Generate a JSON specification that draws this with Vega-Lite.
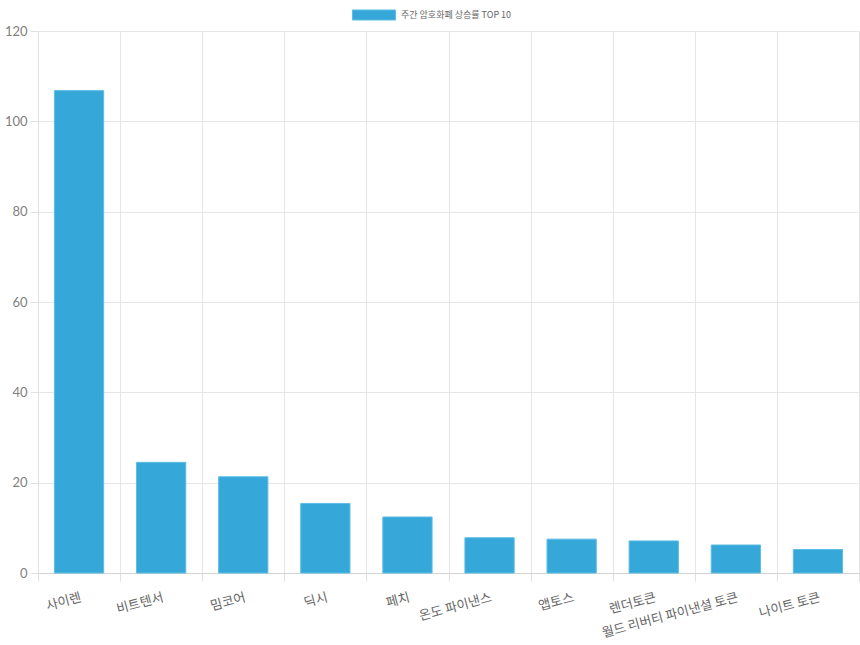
{
  "$schema": "https://vega.github.io/schema/vega-lite/v6.json",
  "width": 821,
  "height": 542,
  "autosize": "none",
  "padding": {"left": 38, "top": 31, "right": 1, "bottom": 72},
  "background": "white",
  "config": {
    "view": {"stroke": null},
    "font": "Noto Sans CJK KR",
    "axis": {
      "gridColor": "#e6e6e6",
      "tickColor": "#e0e0e0",
      "domainColor": "#d2d2d2",
      "labelColor": "#666666",
      "labelFont": "Noto Sans CJK KR"
    }
  },
  "data": {
    "values": [
      {"coin": "사이렌", "gain": 106.8, "series": "주간 암호화폐 상승률 TOP 10"},
      {"coin": "비트텐서", "gain": 24.5, "series": "주간 암호화폐 상승률 TOP 10"},
      {"coin": "밈코어", "gain": 21.3, "series": "주간 암호화폐 상승률 TOP 10"},
      {"coin": "딕시", "gain": 15.4, "series": "주간 암호화폐 상승률 TOP 10"},
      {"coin": "페치", "gain": 12.4, "series": "주간 암호화폐 상승률 TOP 10"},
      {"coin": "온도 파이낸스", "gain": 7.8, "series": "주간 암호화폐 상승률 TOP 10"},
      {"coin": "앱토스", "gain": 7.5, "series": "주간 암호화폐 상승률 TOP 10"},
      {"coin": "렌더토큰", "gain": 7.1, "series": "주간 암호화폐 상승률 TOP 10"},
      {"coin": "월드 리버티 파이낸셜 토큰", "gain": 6.2, "series": "주간 암호화폐 상승률 TOP 10"},
      {"coin": "나이트 토큰", "gain": 5.2, "series": "주간 암호화폐 상승률 TOP 10"}
    ]
  },
  "mark": {
    "type": "bar",
    "width": {"band": 0.6},
    "stroke": "#5dbde4",
    "strokeWidth": 1
  },
  "encoding": {
    "x": {
      "field": "coin",
      "type": "nominal",
      "sort": null,
      "title": null,
      "scale": {"paddingInner": 0, "paddingOuter": 0},
      "axis": {
        "tickBand": "extent",
        "tickSize": 8,
        "labelAngle": -15,
        "labelAlign": "right",
        "labelBaseline": "top",
        "labelPadding": 10,
        "labelFontSize": 13,
        "grid": true
      }
    },
    "y": {
      "field": "gain",
      "type": "quantitative",
      "title": null,
      "scale": {"domain": [0, 120], "nice": false},
      "axis": {
        "values": [0, 20, 40, 60, 80, 100, 120],
        "tickSize": 8,
        "labelPadding": 3,
        "labelFontSize": 13,
        "labelColor": "#808080",
        "labelFont": "Lato",
        "domainColor": "#e0e0e0"
      }
    },
    "color": {
      "field": "series",
      "type": "nominal",
      "scale": {"range": ["#35a8d9"]},
      "legend": {
        "title": null,
        "orient": "none",
        "legendX": 314,
        "legendY": -38,
        "padding": 0,
        "symbolType": "M-1,-0.233H1V0.233H-1Z",
        "symbolSize": 1849,
        "symbolStrokeColor": "#5dbde4",
        "symbolStrokeWidth": 1,
        "symbolOpacity": 1,
        "labelFontSize": 9,
        "labelColor": "#666666",
        "labelOffset": 5
      }
    }
  }
}
